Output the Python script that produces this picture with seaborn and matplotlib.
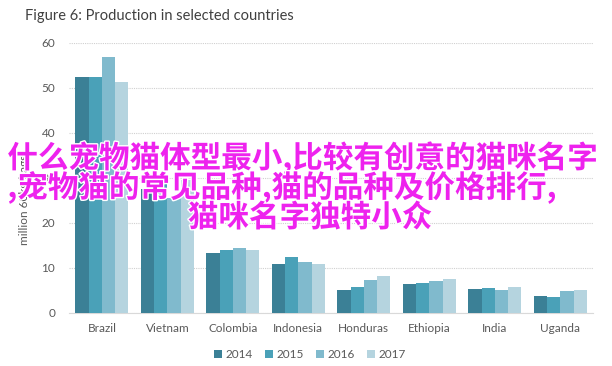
import numpy as np
import pandas as pd
import matplotlib
matplotlib.use('Agg')
import matplotlib.pyplot as plt
import matplotlib.patheffects as pe
import seaborn as sns

countries = ['Brazil', 'Vietnam', 'Colombia', 'Indonesia', 'Honduras', 'Ethiopia', 'India', 'Uganda']
years = ['2014', '2015', '2016', '2017']
v2014 = [52.3, 27.5, 13.3, 10.8, 5.2, 6.4, 5.3, 3.7]
v2015 = [52.5, 28.7, 13.9, 12.5, 5.7, 6.6, 5.6, 3.6]
v2016 = [56.8, 25.5, 14.5, 11.4, 7.3, 7.2, 5.1, 4.9]
v2017 = [51.2, 29.5, 13.9, 10.9, 8.2, 7.6, 5.8, 5.0]
yticks = [0, 10, 20, 30, 40, 50, 60]

overlay = ['什么宠物猫体型最小,比较有创意的猫咪名字',
           ',宠物猫的常见品种,猫的品种及价格排行,',
           '猫咪名字独特小众']

df = pd.DataFrame({'country': countries * 4,
                   'year': sum([[y] * len(countries) for y in years], []),
                   'value': v2014 + v2015 + v2016 + v2017})

sns.set_style('white')
plt.rcParams['font.family'] = ['Lato', 'DejaVu Sans']

palette = ['#3b8096', '#4aa1b8', '#80bacd', '#b5d4df']

fig = plt.figure(figsize=(6.12, 3.66), dpi=100)
ax = fig.add_axes([0.113, 0.145, 0.856, 0.738])

sns.barplot(data=df, x='country', y='value', hue='year', palette=palette,
            width=0.81, linewidth=0, saturation=1, ax=ax, zorder=3)

ax.set_ylim(0, 60)
ax.set_yticks(yticks)
ax.set_xlim(-0.5, len(countries) - 0.5)
ax.yaxis.grid(True, color='#d0d0d0', linestyle=(0, (1, 1)), linewidth=0.8, zorder=0)
ax.xaxis.grid(False)
for s in ['top', 'right', 'left']:
    ax.spines[s].set_visible(False)
ax.spines['bottom'].set_color('#d9d9d9')
ax.tick_params(axis='both', length=0, labelsize=8.5, labelcolor='#595959')
ax.tick_params(axis='y', pad=10)
ax.tick_params(axis='x', pad=7)
ax.set_xlabel('')
ax.set_ylabel('million 60kg bags', fontsize=8.5, color='#595959')
ax.yaxis.set_label_coords(-0.075, 0.42)

leg = ax.legend(loc='upper center', bbox_to_anchor=(0.46, -0.095), ncol=4, frameon=False,
                fontsize=8.5, handlelength=0.7, handleheight=0.7, handletextpad=0.3,
                columnspacing=1.0, labelcolor='#595959')

fig.text(0.041, 0.955, 'Figure 6: Production in selected countries', fontsize=10.5,
         color='#404040', va='center', ha='left')

# overlay text
pos = [(0.012, 0.568), (0.012, 0.487), (0.307, 0.405)]
for (x, y), t in zip(pos, overlay):
    fig.text(x, y, t, fontsize=22, color='#ee22ee', fontweight='bold', va='center', ha='left',
             family=['Noto Sans CJK SC', 'DejaVu Sans'],
             path_effects=[pe.withStroke(linewidth=2, foreground='white')])

fig.savefig('out.png', dpi=100)
